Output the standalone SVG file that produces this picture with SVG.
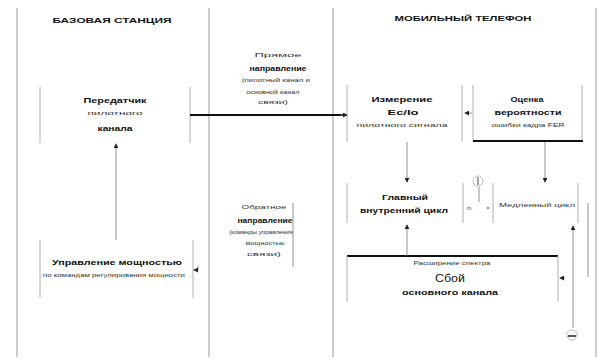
<svg xmlns="http://www.w3.org/2000/svg" width="599" height="364" viewBox="0 0 599 364">
<defs>
<marker id="ah" viewBox="0 0 6 6" refX="5" refY="3" markerWidth="5" markerHeight="5" orient="auto" markerUnits="userSpaceOnUse"><path d="M0,0 L6,3 L0,6 z" fill="#222"/></marker>
</defs>
<style>
text{font-family:"Liberation Sans","DejaVu Sans",sans-serif;fill:#111;text-anchor:middle}
.t{font-size:8px;font-weight:bold}
.b{font-size:8px;font-weight:bold}
.m{font-size:8px;font-weight:bold}
.s{font-size:5px;fill:#333}
.lane{stroke:#aaa;stroke-width:1.2;fill:none}
.side{stroke:#b0b0b0;stroke-width:1;fill:none}
.thick{stroke:#111;stroke-width:2;fill:none}
.con{stroke:#777;stroke-width:0.8;fill:none}
</style>
<rect width="599" height="364" fill="#fff"/>
<g id="lanes">
<line class="lane" x1="17" y1="8" x2="17" y2="357"/>
<line class="lane" x1="209" y1="8" x2="209" y2="357"/>
<line class="lane" x1="333" y1="8" x2="333" y2="357"/>
<line class="lane" x1="596" y1="8" x2="596" y2="357"/>
</g>
<g id="titles">
<text class="t" x="112" y="23" textLength="119" lengthAdjust="spacingAndGlyphs">БАЗОВАЯ СТАНЦИЯ</text>
<text class="t" x="463" y="21" textLength="137" lengthAdjust="spacingAndGlyphs">МОБИЛЬНЫЙ ТЕЛЕФОН</text>
</g>
<g id="transmitter">
<line class="side" x1="40" y1="87" x2="40" y2="143"/>
<line class="side" x1="190" y1="87" x2="190" y2="143"/>
<text class="b" x="115" y="103" textLength="63" lengthAdjust="spacingAndGlyphs">Передатчик</text>
<text class="s" x="115" y="115" textLength="55" lengthAdjust="spacingAndGlyphs">пилотного</text>
<text class="b" x="115" y="131" textLength="35" lengthAdjust="spacingAndGlyphs">канала</text>
</g>
<g id="power-control">
<line class="side" x1="40" y1="240" x2="40" y2="298"/>
<line class="side" x1="193" y1="240" x2="193" y2="298"/>
<text class="b" x="117" y="265" textLength="130" lengthAdjust="spacingAndGlyphs">Управление мощностью</text>
<text class="s" x="114" y="277" textLength="142" lengthAdjust="spacingAndGlyphs">по командам регулирования мощности</text>
</g>
<g id="forward-label">
<text class="s" x="278" y="57" textLength="47" lengthAdjust="spacingAndGlyphs">Прямое</text>
<text class="b" x="278" y="71" textLength="57" lengthAdjust="spacingAndGlyphs">направление</text>
<text class="s" x="276" y="82" textLength="68" lengthAdjust="spacingAndGlyphs">(пилотный канал и</text>
<text class="s" x="273" y="94" textLength="53" lengthAdjust="spacingAndGlyphs">основной канал</text>
<text class="s" x="273" y="104" textLength="30" lengthAdjust="spacingAndGlyphs">связи)</text>
</g>
<g id="reverse-label">
<text class="s" x="264" y="209" textLength="45" lengthAdjust="spacingAndGlyphs">Обратное</text>
<text class="b" x="265" y="223" textLength="55" lengthAdjust="spacingAndGlyphs">направление</text>
<text class="s" x="261" y="234" textLength="64" lengthAdjust="spacingAndGlyphs">(команды управления</text>
<text class="s" x="265" y="245" textLength="39" lengthAdjust="spacingAndGlyphs">мощностью</text>
<text class="s" x="264" y="256" textLength="34" lengthAdjust="spacingAndGlyphs">связи)</text>
</g>
<g id="measure">
<line class="side" x1="347" y1="85" x2="347" y2="142"/>
<line class="side" x1="462" y1="85" x2="462" y2="142"/>
<text class="m" x="402" y="102" textLength="61" lengthAdjust="spacingAndGlyphs">Измерение</text>
<text class="m" x="403" y="115" textLength="31" lengthAdjust="spacingAndGlyphs">Ec/Io</text>
<text class="s" x="402" y="127" textLength="91" lengthAdjust="spacingAndGlyphs">пилотного сигнала</text>
</g>
<g id="estimate">
<line class="side" x1="473" y1="85" x2="473" y2="141"/>
<line class="side" x1="582" y1="85" x2="582" y2="141"/>
<line class="thick" x1="473" y1="141" x2="583" y2="141"/>
<text class="m" x="527" y="102" textLength="33" lengthAdjust="spacingAndGlyphs">Оценка</text>
<text class="m" x="528" y="115" textLength="67" lengthAdjust="spacingAndGlyphs">вероятности</text>
<text class="s" x="528" y="127" textLength="73" lengthAdjust="spacingAndGlyphs">ошибки кадра FER</text>
</g>
<g id="inner-loop">
<line class="side" x1="347" y1="183" x2="347" y2="223"/>
<line class="side" x1="463" y1="183" x2="463" y2="223"/>
<text class="m" x="405" y="200" textLength="46" lengthAdjust="spacingAndGlyphs">Главный</text>
<text class="m" x="404" y="213" textLength="88" lengthAdjust="spacingAndGlyphs">внутренний цикл</text>
</g>
<g id="loop-switch">
<circle cx="478" cy="181" r="5" fill="none" stroke="#777" stroke-width="0.8" stroke-dasharray="1.5,1"/>
<line x1="478" y1="177" x2="478" y2="185" stroke="#444" stroke-width="1"/>
<line class="con" x1="479" y1="187" x2="479" y2="202"/>
<text class="s" x="469" y="210">m</text>
<text class="s" x="488" y="210">=</text>
</g>
<g id="outer-loop">
<line class="side" x1="493" y1="183" x2="493" y2="223"/>
<line class="side" x1="578" y1="183" x2="578" y2="223"/>
<text class="s" x="537" y="207" textLength="76" lengthAdjust="spacingAndGlyphs" style="font-size:6px">Медленный цикл</text>
</g>
<g id="decode">
<line class="thick" x1="347" y1="256" x2="558" y2="256"/>
<line class="side" x1="347" y1="256" x2="347" y2="302"/>
<line class="side" x1="558" y1="256" x2="558" y2="302"/>
<text class="s" x="452" y="265" textLength="77" lengthAdjust="spacingAndGlyphs">Расширение спектра</text>
<text class="b" x="450" y="282" textLength="30" lengthAdjust="spacingAndGlyphs" style="font-size:10px;font-weight:normal">Сбой</text>
<text class="m" x="450" y="295" textLength="96" lengthAdjust="spacingAndGlyphs">основного канала</text>
</g>
<g id="antenna">
<circle cx="572" cy="335" r="5" fill="none" stroke="#777" stroke-width="0.8" stroke-dasharray="1.5,1"/>
<line x1="568" y1="336" x2="576" y2="336" stroke="#222" stroke-width="1.5"/>
</g>
<g id="connectors">
<line class="con" x1="116" y1="240" x2="116" y2="144" marker-end="url(#ah)"/>
<line class="thick" x1="190" y1="115" x2="344" y2="115"/>
<line class="con" x1="340" y1="115" x2="347" y2="115" marker-end="url(#ah)"/>
<line class="con" x1="472" y1="113" x2="465" y2="113" marker-end="url(#ah)"/>
<line class="con" x1="407" y1="142" x2="407" y2="182" marker-end="url(#ah)"/>
<line class="con" x1="545" y1="142" x2="545" y2="182" marker-end="url(#ah)"/>
<line class="con" x1="407" y1="256" x2="407" y2="225" marker-end="url(#ah)"/>
<line class="con" x1="573" y1="328" x2="573" y2="226" marker-end="url(#ah)"/>
<line class="con" x1="293" y1="203" x2="293" y2="267"/>
<line class="con" x1="588" y1="203" x2="588" y2="277"/>
<line class="con" x1="198" y1="266" x2="198" y2="270"/>
<line class="con" x1="198" y1="270" x2="194" y2="270" marker-end="url(#ah)"/>
<line class="con" x1="565" y1="278" x2="560" y2="278" marker-end="url(#ah)"/>
</g>
</svg>
